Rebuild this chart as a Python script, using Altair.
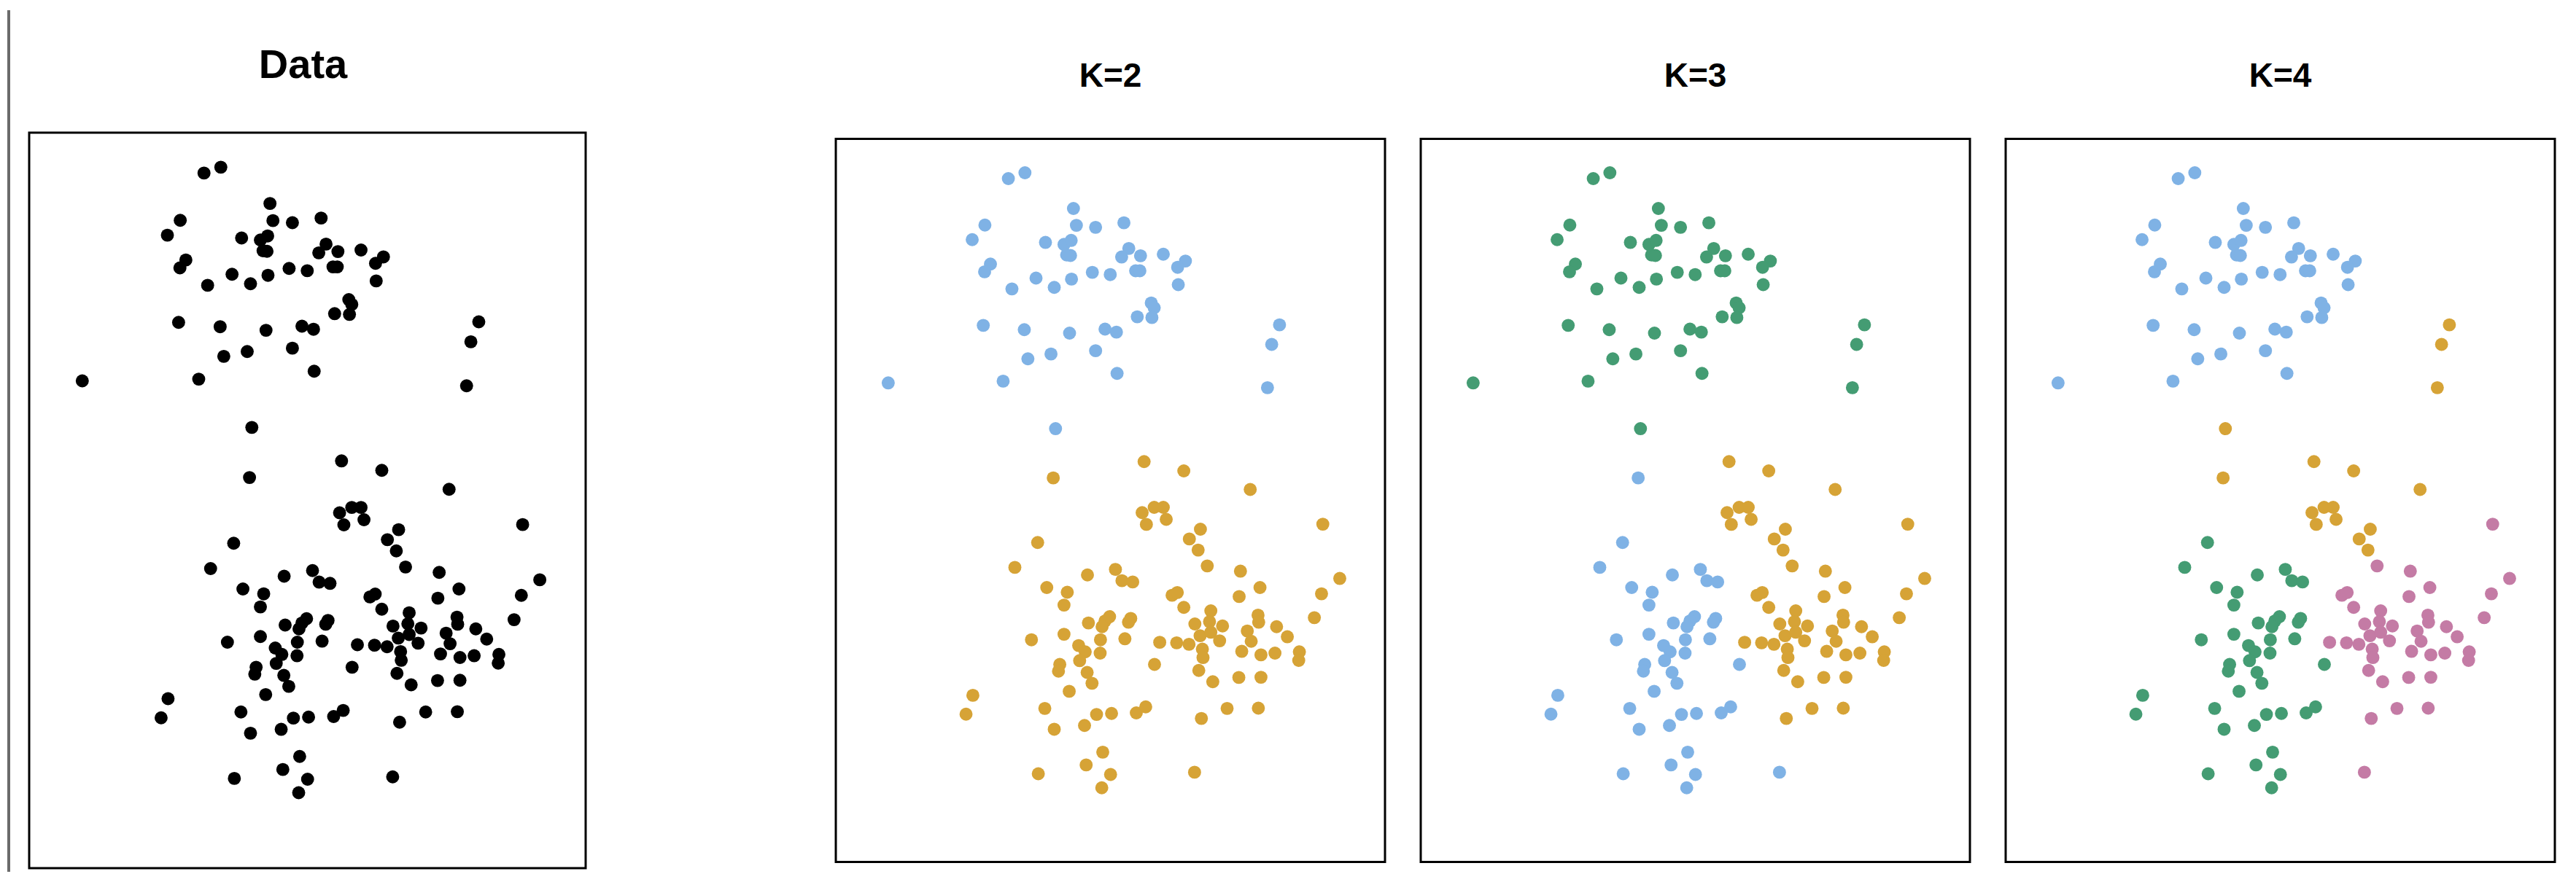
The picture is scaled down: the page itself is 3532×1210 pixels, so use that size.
import altair as alt
import pandas as pd

# ---- observations (read from the figure, arbitrary units) ----
# upper group (49 points)
x_upper = [44.9, 50.0, 64.9, 37.7, 33.8, 65.8, 71.7, 80.4, 56.3, 62.0,
           64.2, 62.8, 64.0, 81.9, 79.7, 85.5, 92.5, 99.3, 96.9, 39.4,
           37.6, 53.4, 46.0, 59.0, 64.3, 70.7, 76.2, 84.0, 85.3, 97.1,
           88.8, 89.7, 84.5, 89.0, 37.2, 49.8, 63.7, 74.6, 78.1, 71.7,
           50.9, 58.0, 78.3, 8.0, 43.3, 128.2, 125.8, 124.5, 59.4]
y_upper = [252.5, 254.8, 240.6, 234.0, 228.2, 233.9, 233.1, 234.9, 227.1, 226.3,
           227.9, 222.1, 221.9, 224.7, 221.3, 221.8, 222.4, 219.7, 217.2, 218.5,
           215.4, 212.9, 208.6, 209.2, 212.5, 215.2, 214.3, 215.8, 215.8, 210.3,
           203.0, 201.1, 197.5, 197.2, 194.1, 192.4, 191.0, 192.6, 191.4, 184.0,
           180.8, 182.7, 175.0, 171.2, 171.9, 194.3, 186.5, 169.3, 153.0]

# lower group (97 points)
x_lower = [86.6, 98.8, 58.7, 119.2, 86.0, 89.7, 92.5, 93.4, 87.3, 103.9,
           100.5, 103.2, 141.5, 53.9, 106.0, 46.9, 69.2, 77.8, 79.8, 83.1,
           116.2, 146.7, 56.7, 63.0, 62.0, 95.2, 96.8, 122.2, 115.8, 141.1,
           98.8, 107.1, 121.6, 121.8, 138.9, 76.0, 74.6, 73.7, 82.5, 81.8,
           69.5, 102.2, 106.7, 110.7, 127.3, 118.3, 62.0, 52.0, 73.2, 80.7,
           91.4, 96.6, 100.4, 103.8, 107.1, 109.8, 104.5, 104.7, 119.5, 130.6,
           66.5, 68.5, 73.1, 66.8, 116.6, 122.5, 126.8, 134.3, 134.1, 60.7,
           60.3, 89.8, 69.1, 70.6, 103.4, 107.7, 115.7, 122.5, 63.6, 34.0,
           31.9, 56.1, 72.0, 76.6, 84.2, 87.1, 104.2, 112.1, 121.7, 59.0,
           68.3, 73.9, 68.8, 54.1, 76.3, 73.6, 102.1]
y_lower = [139.9, 136.2, 133.4, 128.8, 119.6, 121.7, 121.7, 116.9, 114.9, 113.0,
           109.1, 104.7, 115.0, 107.7, 98.4, 97.8, 94.8, 97.0, 92.5, 92.0,
           96.3, 93.4, 89.8, 87.9, 82.8, 86.7, 87.8, 89.8, 86.2, 87.3,
           81.9, 80.5, 78.8, 76.0, 77.8, 78.2, 76.5, 74.2, 77.5, 76.0,
           75.7, 75.3, 76.2, 74.5, 74.2, 72.5, 71.2, 69.0, 69.0, 69.4,
           68.0, 67.8, 67.2, 70.6, 72.0, 68.6, 65.3, 61.9, 68.4, 70.2,
           66.7, 64.2, 63.7, 60.7, 64.4, 63.0, 63.7, 64.2, 60.8, 59.2,
           56.5, 59.2, 56.0, 51.7, 56.8, 52.3, 54.0, 54.1, 48.5, 46.9,
           39.4, 41.7, 39.3, 39.7, 39.9, 42.3, 37.7, 41.7, 41.8, 33.4,
           34.9, 24.3, 19.2, 15.7, 15.4, 10.1, 16.3]

# ---- cluster assignments (1 blue, 2 gold, 3 green, 4 pink) ----
k2_upper = [1, 1, 1, 1, 1, 1, 1, 1, 1, 1,
            1, 1, 1, 1, 1, 1, 1, 1, 1, 1,
            1, 1, 1, 1, 1, 1, 1, 1, 1, 1,
            1, 1, 1, 1, 1, 1, 1, 1, 1, 1,
            1, 1, 1, 1, 1, 1, 1, 1, 1]
k3_upper = [3, 3, 3, 3, 3, 3, 3, 3, 3, 3,
            3, 3, 3, 3, 3, 3, 3, 3, 3, 3,
            3, 3, 3, 3, 3, 3, 3, 3, 3, 3,
            3, 3, 3, 3, 3, 3, 3, 3, 3, 3,
            3, 3, 3, 3, 3, 3, 3, 3, 3]
k4_upper = [1, 1, 1, 1, 1, 1, 1, 1, 1, 1,
            1, 1, 1, 1, 1, 1, 1, 1, 1, 1,
            1, 1, 1, 1, 1, 1, 1, 1, 1, 1,
            1, 1, 1, 1, 1, 1, 1, 1, 1, 1,
            1, 1, 1, 1, 1, 2, 2, 2, 2]

k2_lower = [2, 2, 2, 2, 2, 2, 2, 2, 2, 2,
            2, 2, 2, 2, 2, 2, 2, 2, 2, 2,
            2, 2, 2, 2, 2, 2, 2, 2, 2, 2,
            2, 2, 2, 2, 2, 2, 2, 2, 2, 2,
            2, 2, 2, 2, 2, 2, 2, 2, 2, 2,
            2, 2, 2, 2, 2, 2, 2, 2, 2, 2,
            2, 2, 2, 2, 2, 2, 2, 2, 2, 2,
            2, 2, 2, 2, 2, 2, 2, 2, 2, 2,
            2, 2, 2, 2, 2, 2, 2, 2, 2, 2,
            2, 2, 2, 2, 2, 2, 2]
k3_lower = [2, 2, 1, 2, 2, 2, 2, 2, 2, 2,
            2, 2, 2, 1, 2, 1, 1, 1, 1, 1,
            2, 2, 1, 1, 1, 2, 2, 2, 2, 2,
            2, 2, 2, 2, 2, 1, 1, 1, 1, 1,
            1, 2, 2, 2, 2, 2, 1, 1, 1, 1,
            2, 2, 2, 2, 2, 2, 2, 2, 2, 2,
            1, 1, 1, 1, 2, 2, 2, 2, 2, 1,
            1, 1, 1, 1, 2, 2, 2, 2, 1, 1,
            1, 1, 1, 1, 1, 1, 2, 2, 2, 1,
            1, 1, 1, 1, 1, 1, 1]
k4_lower = [2, 2, 2, 2, 2, 2, 2, 2, 2, 2,
            2, 2, 4, 3, 4, 3, 3, 3, 3, 3,
            4, 4, 3, 3, 3, 4, 4, 4, 4, 4,
            4, 4, 4, 4, 4, 3, 3, 3, 3, 3,
            3, 4, 4, 4, 4, 4, 3, 3, 3, 3,
            4, 4, 4, 4, 4, 4, 4, 4, 4, 4,
            3, 3, 3, 3, 4, 4, 4, 4, 4, 3,
            3, 3, 3, 3, 4, 4, 4, 4, 3, 3,
            3, 3, 3, 3, 3, 3, 4, 4, 4, 3,
            3, 3, 3, 3, 3, 3, 4]

cluster_ids = [1, 2, 3, 4]
cluster_colors = ["#7FB2E5", "#D6A336", "#449C73", "#C47BA5"]
panel_titles = ["Data", "K=2", "K=3", "K=4"]

df = pd.DataFrame({
    "x": x_upper + x_lower,
    "y": y_upper + y_lower,
    "k2": k2_upper + k2_lower,
    "k3": k3_upper + k3_lower,
    "k4": k4_upper + k4_lower,
})

x_enc = alt.X("x:Q", scale=alt.Scale(domain=[-8.1, 160.6], nice=False, zero=False), axis=None)
y_enc = alt.Y("y:Q", scale=alt.Scale(domain=[-19.4, 268.3], nice=False, zero=False), axis=None)
FONT = "Liberation Sans"


def panel_title(text, size, offset, dx=0):
    return alt.TitleParams(text=text, fontSize=size, font=FONT, fontWeight="bold",
                           color="#000000", anchor="middle", frame="group",
                           offset=offset, dx=dx)


# "Data" panel: black points, plus the thin grey strip at the far left of the figure
data_points = alt.Chart(df).mark_circle(size=320, opacity=1, color="#000000").encode(
    x=x_enc, y=y_enc
)
grey_strip = alt.Chart(pd.DataFrame({"v": [0]})).mark_rect(color="#6b6b6b").encode(
    x=alt.value(-30), x2=alt.value(-26), y=alt.value(-168), y2=alt.value(1014)
)
data_panel = alt.layer(data_points, grey_strip).properties(
    width=763, height=1009, title=panel_title(panel_titles[0], 56, -105, -6)
)


def k_panel(col, label):
    return alt.Chart(df).mark_circle(size=320, opacity=1).encode(
        x=x_enc, y=y_enc,
        color=alt.Color(f"{col}:N", scale=alt.Scale(domain=cluster_ids, range=cluster_colors), legend=None),
    ).properties(width=753, height=992, title=panel_title(label, 46, 62))


# empty, invisible spacer between the data panel and the clustering panels
spacer = alt.Chart(pd.DataFrame({"v": [0]})).mark_rect(opacity=0).encode(
    x=alt.value(0), y=alt.value(0)
).properties(width=245, height=992, view=alt.ViewBackground(stroke="transparent"))

chart = alt.hconcat(
    data_panel, spacer,
    k_panel("k2", panel_titles[1]), k_panel("k3", panel_titles[2]), k_panel("k4", panel_titles[3]),
    spacing=49, bounds="flush", center=True,
).properties(
    padding={"left": 0, "top": 4, "right": 0, "bottom": 0},
    background="#ffffff",
).configure_view(stroke="#000000", strokeWidth=3)

chart.save("out.html", embed_options={"renderer": "svg", "actions": False})
